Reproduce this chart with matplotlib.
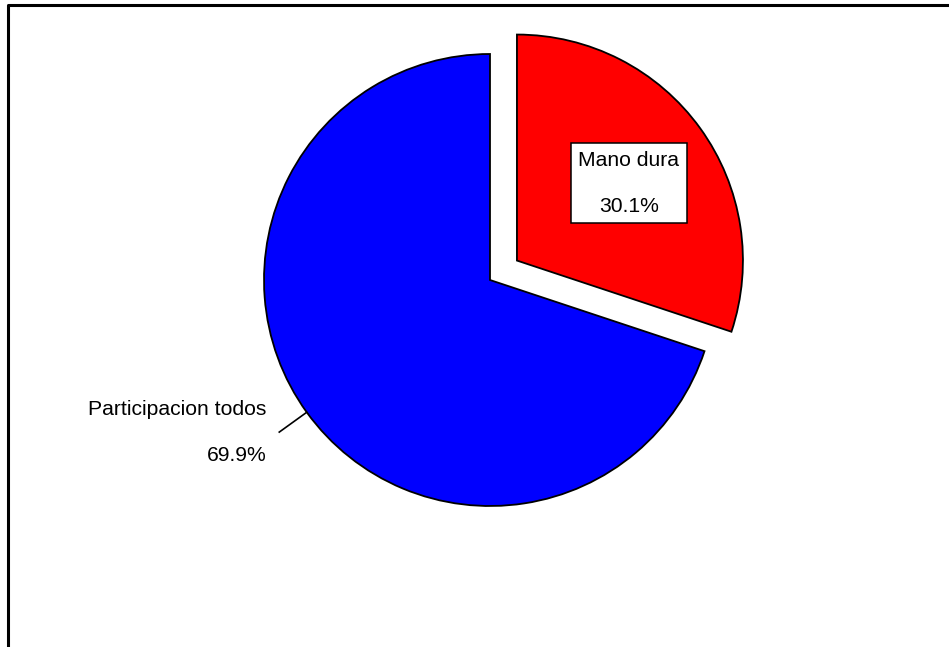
import numpy as np
import matplotlib
matplotlib.use("Agg")
import matplotlib.pyplot as plt
from matplotlib.lines import Line2D

categories = ["Mano dura", "Participacion todos"]
values = [30.1, 69.9]
pct_labels = ["30.1%", "69.9%"]
colors = ["#FF0000", "#0000FF"]
explode = [0.147, 0.0]

plt.rcParams['font.family'] = ['Liberation Sans', 'DejaVu Sans']

W, H = 949, 647
fig = plt.figure(figsize=(W / 100, H / 100), dpi=100)
ax = fig.add_axes([0, 0, 1, 1])
R = 226.0
cx, cy = 490.0, 280.0

wedges, _ = ax.pie(values, colors=colors, explode=explode, startangle=90,
                   counterclock=False, radius=1.0,
                   wedgeprops=dict(edgecolor='black', linewidth=1.3))
ax.set_xlim(-cx / R, (W - cx) / R)
ax.set_ylim(-(H - cy) / R, cy / R)
ax.set_aspect('equal')
ax.axis('off')

# Label for first slice (inside box)
w = wedges[0]
th = np.deg2rad((w.theta1 + w.theta2) / 2)
ox, oy = w.center
tx, ty = ox + 0.585 * np.cos(th) + 0.02, oy + 0.585 * np.sin(th)
ax.text(tx, ty, categories[0] + "\n\n" + pct_labels[0], ha='center', va='center',
        fontsize=15.2, linespacing=1.26, multialignment='center',
        bbox=dict(boxstyle='square,pad=0.36', facecolor='white', edgecolor='black', linewidth=1.1))

# Label for second slice with leader line
w = wedges[1]
th = np.deg2rad((w.theta1 + w.theta2) / 2)
ox, oy = w.center
x0, y0 = ox + 1.0 * np.cos(th), oy + 1.0 * np.sin(th)
x1, y1 = ox + 1.15 * np.cos(th), oy + 1.15 * np.sin(th)
ax.plot([x0, x1], [y0, y1], color='black', linewidth=1.2)
ax.text(x1 - 0.055, y1, categories[1] + "\n\n" + pct_labels[1], ha='right', va='center',
        fontsize=15.2, linespacing=1.26, multialignment='right')

# Outer frame (top and left edges visible)
fig.add_artist(Line2D([8 / W, 8 / W, 1.01], [-0.01, 1 - 5 / H, 1 - 5 / H],
                      transform=fig.transFigure, color='black', linewidth=2.2))

fig.savefig("out.png", dpi=100)
